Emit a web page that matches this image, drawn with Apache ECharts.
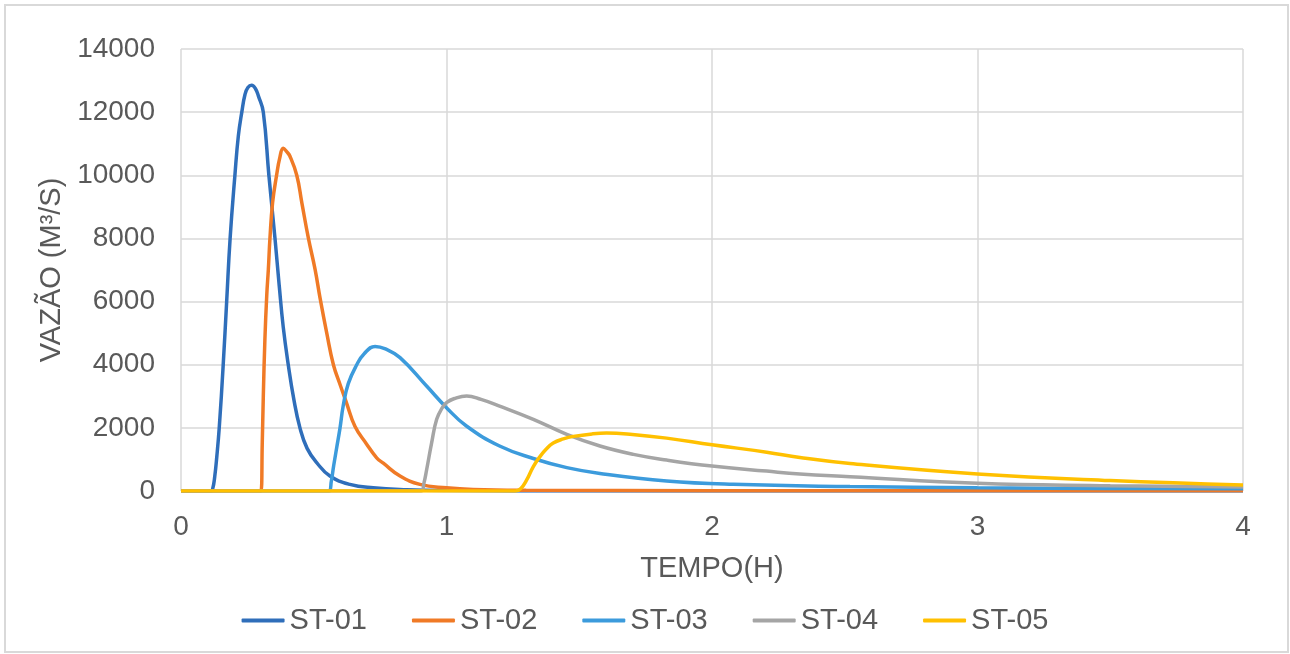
<!DOCTYPE html>
<html>
<head>
<meta charset="utf-8">
<script src="https://cdn.jsdelivr.net/npm/echarts@6/dist/echarts.min.js"></script>
<style>
html,body{margin:0;padding:0;background:#fff;}
#c{width:1290px;height:654px;}
</style>
</head>
<body>
<div id="c"></div>
<script>
const seriesNames = ['ST-01','ST-02','ST-03','ST-04','ST-05'];
const xTicks = [0,1,2,3,4];
const yTicks = [0,2000,4000,6000,8000,10000,12000,14000];

const t01 = [0,0.112,0.119,0.127,0.135,0.144,0.159,0.172,0.185,0.203,0.216,0.229,0.241,0.252,0.266,0.280,0.292,0.310,0.331,0.354,0.370,0.385,0.404,0.425,0.448,0.475,0.511,0.561,0.636,0.724,0.850,1.0,1.5,4.0];
const q01 = [0,0,60,450,1100,2000,4000,6000,8000,10000,11250,12000,12560,12780,12850,12750,12500,12000,10000,8000,6500,5200,4000,2900,2000,1350,900,475,210,100,40,15,0,0];

const t02 = [0,0.301,0.306,0.310,0.316,0.323,0.329,0.335,0.345,0.360,0.372,0.385,0.398,0.410,0.436,0.455,0.480,0.505,0.524,0.549,0.574,0.600,0.623,0.655,0.698,0.737,0.762,0.825,0.900,1.0,1.1,1.3,2.0,4.0];
const q02 = [0,0,1500,3000,4800,6200,7020,8000,9135,10000,10550,10855,10750,10610,10000,9135,8000,7020,6100,5000,4000,3350,2800,2050,1500,1050,880,475,210,100,45,20,10,5];

const t03 = [0,0.557,0.566,0.575,0.587,0.599,0.611,0.630,0.662,0.690,0.731,0.770,0.825,0.925,1.0,1.075,1.2,1.327,1.453,1.578,1.829,2.08,2.52,3.0,3.5,4.0];
const q03 = [0,0,300,800,1400,2000,2700,3400,4000,4350,4580,4500,4225,3325,2640,2060,1425,1030,740,555,317,210,140,100,80,70];

const t04 = [0,0.905,0.915,0.925,0.944,0.963,0.985,1.0,1.03,1.076,1.13,1.2,1.327,1.453,1.578,1.704,1.829,2.0,2.206,2.331,2.52,3.0,3.5,4.0];
const q04 = [0,0,250,665,1525,2270,2650,2800,2930,3010,2900,2690,2270,1795,1425,1160,980,790,630,540,455,245,170,125];

const t05 = [0,1.26,1.28,1.302,1.327,1.352,1.375,1.402,1.44,1.478,1.55,1.603,1.70,1.829,2.0,2.206,2.331,2.52,3.0,3.5,4.0];
const q05 = [0,0,80,350,775,1090,1320,1520,1650,1730,1810,1835,1790,1675,1465,1230,1060,870,540,330,190];

const colors = ['#2F6EBA','#F07A26','#3C9BDC','#A5A5A5','#FFC000'];
const times = [t01,t02,t03,t04,t05];
const flows = [q01,q02,q03,q04,q05];

const chart = echarts.init(document.getElementById('c'), null, {renderer:'canvas'});
const font = 'Liberation Sans, Arial, sans-serif';
const txt = '#595959';

chart.setOption({
  animation:false,
  backgroundColor:'#ffffff',
  color:colors,
  graphic:[{type:'rect',shape:{x:5,y:5,width:1283,height:647},style:{fill:null,stroke:'#D9D9D9',lineWidth:2},silent:true}],
  grid:{left:181,right:47,top:49,bottom:163,containLabel:false},
  legend:{
    data:seriesNames, bottom:14, left:'center', icon:'roundRect',
    itemWidth:43, itemHeight:4, itemGap:45,
    textStyle:{fontFamily:font,fontSize:29,color:txt}
  },
  xAxis:{
    type:'value', min:0, max:4, interval:1,
    name:'TEMPO(H)', nameLocation:'middle', nameGap:63,
    nameTextStyle:{fontFamily:font,fontSize:29,color:txt},
    axisLine:{show:false}, axisTick:{show:false},
    axisLabel:{fontFamily:font,fontSize:28,color:txt,margin:22,
      formatter:v=>xTicks.includes(v)?String(v):''},
    splitLine:{show:true,lineStyle:{color:'#D9D9D9',width:1.5}}
  },
  yAxis:{
    type:'value', min:0, max:14000, interval:2000,
    name:'VAZÃO (M³/S)', nameLocation:'middle', nameGap:113,
    nameTextStyle:{fontFamily:font,fontSize:29,color:txt},
    axisLine:{show:false}, axisTick:{show:false},
    axisLabel:{fontFamily:font,fontSize:28,color:txt,margin:26,
      formatter:v=>yTicks.includes(v)?String(v):''},
    splitLine:{show:true,lineStyle:{color:'#D9D9D9',width:1.5}}
  },
  series: seriesNames.map((n,k)=>({
    name:n, type:'line', smooth:0.45, symbol:'none', showSymbol:false,
    lineStyle:{width:3.5,color:colors[k]},
    itemStyle:{color:colors[k]},
    data: times[k].map((t,i)=>[t,flows[k][i]])
  }))
});
</script>
</body>
</html>
